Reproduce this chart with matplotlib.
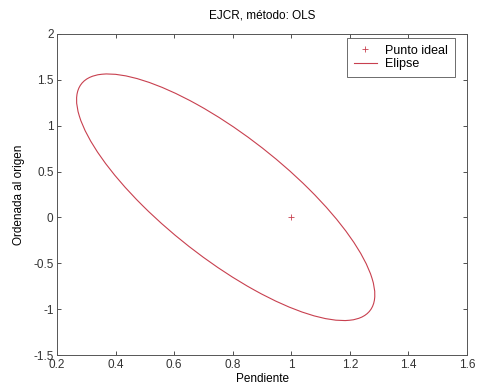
import matplotlib.pyplot as plt
from matplotlib.patches import Ellipse
from matplotlib.lines import Line2D

plt.rcParams['font.family'] = ['Liberation Sans', 'DejaVu Sans']

# Datos
punto_ideal = (1.0, 0.0)          # pendiente, ordenada
centro_elipse = (0.776, 0.22)
semiejes = (1.405, 0.298)         # semieje mayor, menor
angulo = -72.5                    # grados

xticks = [0.2, 0.4, 0.6, 0.8, 1, 1.2, 1.4, 1.6]
yticks = [-1.5, -1, -0.5, 0, 0.5, 1, 1.5, 2]

color = '#c8404f'
fs = 8.5

fig = plt.figure(figsize=(4.79, 3.89), dpi=100)
ax = fig.add_axes([0.119, 0.087, 0.856, 0.826])

ax.plot(punto_ideal[0], punto_ideal[1], '+', color=color, markersize=5,
        markeredgewidth=0.6)
elipse = Ellipse(centro_elipse, 2 * semiejes[0], 2 * semiejes[1], angle=angulo,
                 fill=False, edgecolor=color, linewidth=0.8)
ax.add_patch(elipse)

ax.set_xlim(0.2, 1.6)
ax.set_ylim(-1.5, 2)
ax.set_xticks(xticks)
ax.set_yticks(yticks)
ax.set_xticklabels([str(t) for t in xticks])
ax.set_yticklabels([str(t) for t in yticks])
ax.tick_params(direction='in', top=True, right=True, length=3, width=0.6,
               labelsize=fs, colors='#333333', pad=2.5)
for s in ax.spines.values():
    s.set_linewidth(0.7)
    s.set_color('#555555')

ax.set_title('EJCR, método: OLS', fontsize=fs, pad=11)
ax.set_xlabel('Pendiente', fontsize=fs, labelpad=2)
ax.set_ylabel('Ordenada al origen', fontsize=fs, labelpad=6)

handles = [Line2D([], [], linestyle='none', marker='+', color=color,
                  markersize=5, markeredgewidth=0.6),
           Line2D([], [], color=color, linewidth=0.8)]
leg = ax.legend(handles, ['Punto ideal', 'Elipse'], loc='upper right',
                bbox_to_anchor=(0.971, 0.9875), borderaxespad=0,
                fontsize=9, fancybox=False, edgecolor='#555555',
                framealpha=1, handlelength=1.8, handletextpad=0.7,
                labelspacing=0.1, borderpad=0.55)
leg.get_frame().set_linewidth(0.6)

fig.savefig('out.png', dpi=100)
